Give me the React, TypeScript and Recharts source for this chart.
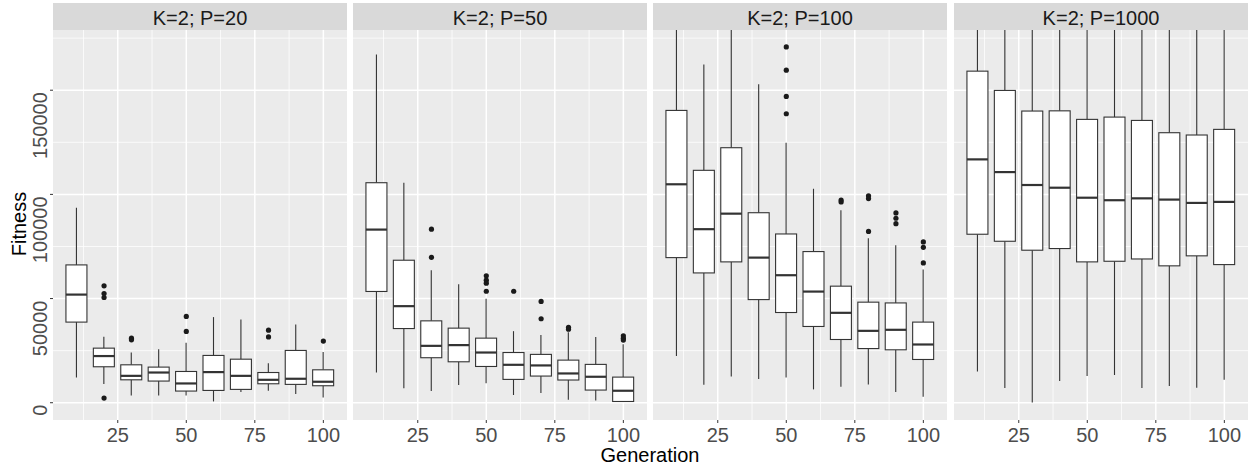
import React from 'react';
import { ComposedChart, Bar, Scatter, XAxis, YAxis, CartesianGrid } from 'recharts';

const generations = [10, 20, 30, 40, 50, 60, 70, 80, 90, 100];
const panelTitles = ['K=2; P=20', 'K=2; P=50', 'K=2; P=100', 'K=2; P=1000'];
const xTicks = [25, 50, 75, 100];
const xMinor = [12.5, 37.5, 62.5, 87.5];
const yTicks = [0, 50000, 100000, 150000];
const yMinor = [25000, 75000, 125000, 175000];
const xDomain: [number, number] = [1.375, 108.625];
const yDomain: [number, number] = [-8290, 178900];

// [lower whisker, Q1, median, Q3, upper whisker]
const p20Boxes = [
  [12100, 38700, 51900, 66150, 93600],
  [8960, 17260, 22400, 26200, 31640],
  [3500, 11000, 12900, 18200, 24100],
  [3500, 10400, 14500, 17100, 25700],
  [3500, 5600, 9250, 15000, 28800],
  [620, 5900, 14700, 22700, 41100],
  [5100, 6400, 12900, 20900, 39900],
  [5750, 9100, 11000, 14500, 18900],
  [4150, 8800, 11500, 25100, 37500],
  [2550, 8150, 10070, 15800, 24300],
];
const p20Outliers = [
  [20, 56100], [20, 52400], [20, 50500], [20, 2250], [30, 31000], [30, 30200],
  [50, 41400], [50, 34200], [80, 34800], [80, 31600], [100, 29600],
];

const p50Boxes = [
  [14500, 53400, 83100, 105600, 167200],
  [7000, 35600, 46350, 68400, 105600],
  [5600, 21600, 27300, 39300, 63600],
  [8450, 19650, 27650, 35800, 56900],
  [9400, 17400, 24100, 31000, 49860],
  [3700, 11200, 18200, 24100, 34350],
  [4650, 12800, 17900, 23200, 32450],
  [1440, 10900, 14050, 20450, 33800],
  [1100, 6080, 12460, 18400, 31600],
  [400, 600, 5750, 12300, 28100],
];
const p50Outliers = [
  [30, 83300], [30, 69800], [50, 60900], [50, 58800], [50, 57400], [50, 53500],
  [60, 53500], [70, 48600], [70, 40300], [80, 36200], [80, 35300],
  [100, 32100], [100, 31000], [100, 30050],
];

const p100Boxes = [
  [22400, 69650, 104850, 140300, 195000],
  [8600, 62300, 83300, 111550, 162400],
  [12600, 67600, 90750, 122400, 192000],
  [11350, 49500, 69650, 91200, 152900],
  [12150, 43300, 61200, 81000, 124800],
  [6400, 36600, 53350, 72550, 102700],
  [7670, 30350, 43150, 55950, 92380],
  [8770, 26000, 34500, 48270, 79000],
  [5100, 25400, 35000, 47900, 75600],
  [2900, 20760, 27950, 38700, 63900],
];
const p100Outliers = [
  [50, 170800], [50, 159600], [50, 147000], [50, 138700],
  [70, 97300], [70, 96400], [80, 99300], [80, 98000], [80, 82200],
  [90, 91100], [90, 88550], [90, 85950],
  [100, 77200], [100, 74600], [100, 67100],
];

const p1000Boxes = [
  [15000, 80870, 116800, 159150, 199000],
  [7050, 77500, 110700, 149900, 198000],
  [150, 73200, 104500, 140000, 197000],
  [10400, 74000, 103200, 140100, 196000],
  [12800, 67600, 98400, 136000, 197000],
  [13300, 67900, 97200, 137100, 196500],
  [7050, 69000, 98100, 135500, 195000],
  [8000, 65700, 97500, 129600, 194000],
  [7200, 70500, 95900, 128500, 193000],
  [11000, 66300, 96400, 131200, 195000],
];
const p1000Outliers: number[][] = [];

const panelBoxes = [p20Boxes, p50Boxes, p100Boxes, p1000Boxes];
const panelOutliers = [p20Outliers, p50Outliers, p100Outliers, p1000Outliers];
const panelLefts = [53, 353, 653, 954];
const PANEL_W = 294;
const PANEL_H = 390;
const PANEL_TOP = 30;
const FONT = '"Liberation Sans", Arial, Helvetica, sans-serif';

const BoxShape = (props: any) => {
  const { x, y, width, height, payload } = props;
  if (!payload || !payload.stats) return null;
  const [lo, q1, med, q3, hi] = payload.stats;
  const k = height / (hi - lo);
  const py = (v: number) => y + (hi - v) * k;
  const top = Math.max(py(hi), py(yDomain[1]));
  const cx = x + width / 2;
  return (
    <g>
      <line x1={cx} x2={cx} y1={top} y2={py(q3)} stroke="#333333" strokeWidth={1.1} />
      <line x1={cx} x2={cx} y1={py(q1)} y2={py(lo)} stroke="#333333" strokeWidth={1.1} />
      <rect x={x} y={py(q3)} width={width} height={py(q1) - py(q3)} fill="#FFFFFF" stroke="#333333" strokeWidth={1.1} />
      <line x1={x} x2={x + width} y1={py(med)} y2={py(med)} stroke="#333333" strokeWidth={2.2} />
    </g>
  );
};

const OutlierShape = (props: any) => {
  if (!Number.isFinite(props.cx) || !Number.isFinite(props.cy) || props.payload?.value == null) return null;
  return <circle cx={props.cx} cy={props.cy} r={2.6} fill="#1A1A1A" />;
};

const YTick = (props: any) => {
  const { x, y, payload } = props;
  const yy = y + 2;
  return (
    <text x={x} y={yy} transform={`rotate(-90 ${x} ${yy})`} textAnchor="end" fontSize={20} fill="#4D4D4D" fontFamily={FONT}>
      {payload.value}
    </text>
  );
};

function Panel({ index }: { index: number }) {
  const boxes = panelBoxes[index];
  const data = generations.map((g, i) => ({ gen: g, stats: boxes[i], range: [boxes[i][0], boxes[i][4]] }));
  const pts = panelOutliers[index].map(([g, v]) => ({ gen: g, value: v }));
  const showY = index === 0;
  const yW = showY ? 53 : 0;
  return (
    <div style={{ position: 'absolute', left: panelLefts[index] - yW, top: PANEL_TOP }}>
      <ComposedChart width={PANEL_W + yW} height={PANEL_H + 25} data={data} margin={{ top: 0, right: 0, bottom: 0, left: 0 }}>
        <CartesianGrid
          fill="#EBEBEB"
          stroke="#FFFFFF"
          strokeWidth={0.75}
          horizontalValues={yMinor}
          verticalValues={xMinor}
        />
        <CartesianGrid
          stroke="#FFFFFF"
          strokeWidth={1.5}
          horizontalValues={yTicks}
          verticalValues={xTicks}
        />
        <XAxis
          dataKey="gen"
          type="number"
          domain={xDomain}
          allowDataOverflow
          ticks={xTicks}
          height={25}
          tickSize={3}
          tickMargin={5}
          axisLine={false}
          tickLine={{ stroke: '#333333' }}
          tick={{ fontSize: 20, fill: '#4D4D4D', fontFamily: FONT }}
        />
        <YAxis
          type="number"
          domain={yDomain}
          allowDataOverflow
          ticks={yTicks}
          width={yW}
          hide={!showY}
          tickSize={3}
          tickMargin={3}
          axisLine={false}
          tickLine={{ stroke: '#333333' }}
          tick={<YTick />}
        />
        <Bar dataKey="range" barSize={21} shape={<BoxShape />} isAnimationActive={false} />
        {pts.length > 0 && (
          <Scatter data={pts} dataKey="value" shape={<OutlierShape />} isAnimationActive={false} />
        )}
      </ComposedChart>
    </div>
  );
}

export default function App() {
  return (
    <div style={{ position: 'absolute', left: 0, top: 0, width: 1249, height: 465, background: '#FFFFFF', fontFamily: FONT, overflow: 'hidden' }}>
      <svg width={1249} height={465} style={{ position: 'absolute', left: 0, top: 0 }}>
        {panelLefts.map((l, i) => (
          <g key={i}>
            <rect x={l} y={3} width={PANEL_W} height={27} fill="#D9D9D9" />
            <text x={l + PANEL_W / 2} y={24.5} textAnchor="middle" fontSize={20} fill="#1A1A1A" fontFamily={FONT}>
              {panelTitles[i]}
            </text>
          </g>
        ))}
        <text x={650} y={462} textAnchor="middle" fontSize={20} fill="#000000" fontFamily={FONT}>Generation</text>
        <text x={26} y={224} transform="rotate(-90 26 224)" textAnchor="middle" fontSize={20} fill="#000000" fontFamily={FONT}>Fitness</text>
      </svg>
      {panelLefts.map((_, i) => (
        <Panel key={i} index={i} />
      ))}
    </div>
  );
}
